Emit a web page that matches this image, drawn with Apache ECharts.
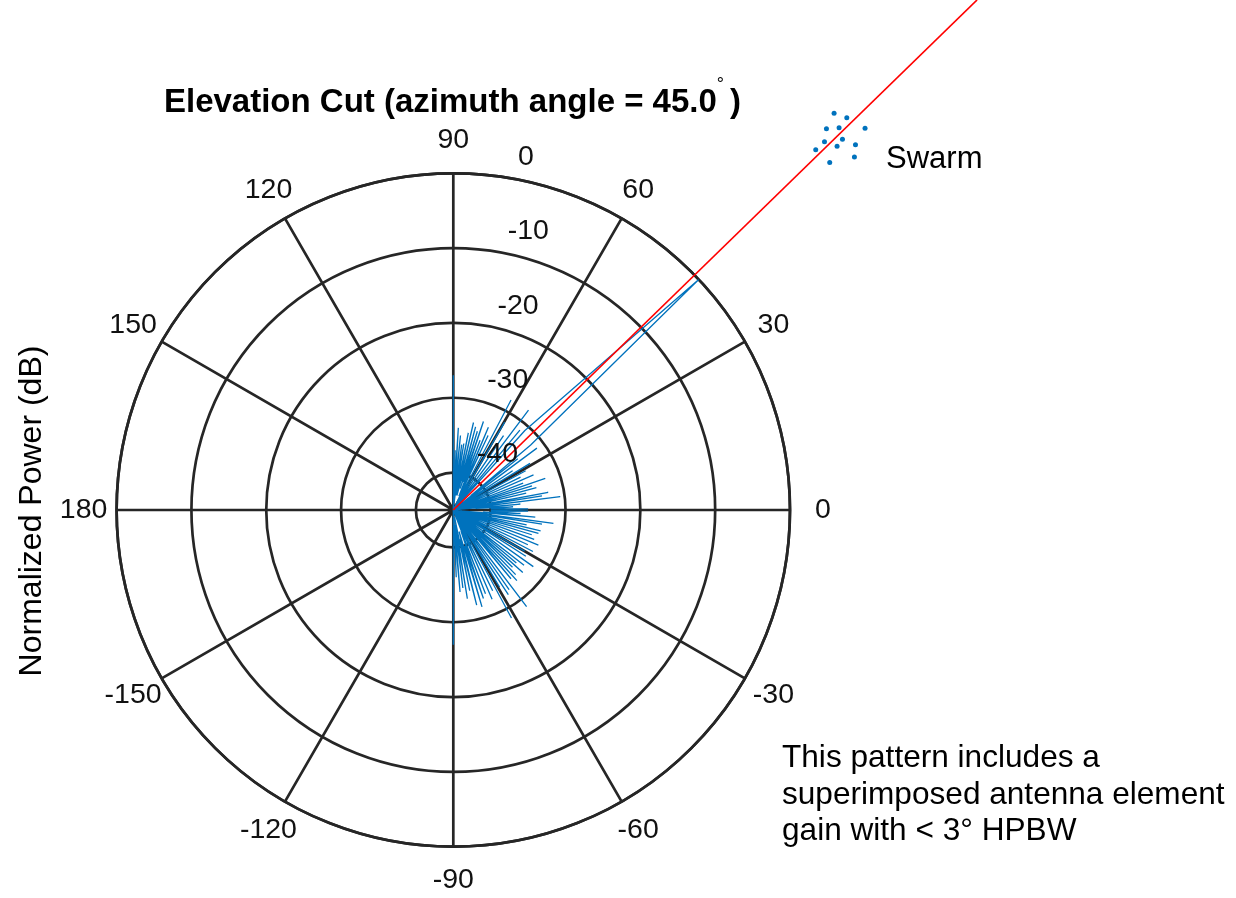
<!DOCTYPE html>
<html>
<head>
<meta charset="utf-8">
<title>Elevation Cut</title>
<script src="https://cdn.jsdelivr.net/npm/echarts@6/dist/echarts.min.js"></script>
<style>
html, body { margin: 0; padding: 0; background: #fff; }
#main { width: 1236px; height: 898px; }
</style>
</head>
<body>
<div id="main"></div>
<script>
// pattern vertices: elevation (deg) and normalized power (dB)
// anything under -45 dB sits on the centre, so it is entered as -45
const elevationDeg = [
  -90, -89, -87.5, -86.5, -85.3, -84, -83, -82, -81, -80,
  -78.5, -77.5, -76.2, -75, -73.5, -72.5, -71.2, -70, -69, -68,
  -66.5, -65.3, -64, -63, -61.7, -60.5, -59, -58, -57, -56,
  -55, -54, -52.8, -51.5, -50, -49, -48, -47, -46, -45,
  -44, -43, -42, -41, -40, -39, -38, -37, -35.3, -34,
  -32.5, -31.5, -30, -29, -27.5, -26.5, -25, -24, -22.4, -21.5,
  -20, -19, -17.5, -16.5, -15.3, -14.3, -13.5, -12.5, -11.5, -10.5,
  -9, -8.3, -7.6, -6.5, -5, -4, -3, -2, -0.8, 0,
  0.8, 2, 3, 4, 5, 6, 7.1, 8, 9, 9.7,
  10.5, 11.5, 13, 14, 15, 16, 17, 18, 19, 20,
  21, 22.3, 23.6, 24.8, 26, 27.3, 28.5, 29.8, 31.3, 32.3,
  33.5, 35, 36.5, 37.5, 38.5, 39.3, 40, 43.2, 48, 49,
  50.2, 51.5, 53, 54.3, 56, 57.3, 59.7, 61, 62.3, 63.3,
  65, 66, 67, 68, 69, 70, 71.2, 72.2, 73, 74,
  75, 76, 77, 78, 79, 80, 81, 81.8, 82.7, 83.6,
  84.5, 85.5, 86.5, 87.3, 88.2, 89.2, 90
];
const powerDb = [
  -27, -45, -36, -42, -34, -43, -34.5, -42, -33, -44,
  -34, -41, -31.9, -42, -31.5, -40, -32.5, -42, -33, -45,
  -32, -43, -33, -45, -28.6, -45, -33, -42, -31.5, -45,
  -32, -44, -28.8, -45, -33, -41, -32.3, -43, -33, -45,
  -34, -42, -32.5, -45, -34, -43, -33, -45, -31.9, -45,
  -33.5, -43, -34, -45, -33, -44, -34, -45, -32.7, -45,
  -33.5, -44, -34, -45, -33.2, -45, -33, -45, -35, -45,
  -33, -45, -31.5, -44, -34, -41, -36, -40, -35, -40,
  -35, -40, -37, -42, -36, -44, -30.6, -45, -33, -44,
  -32.1, -45, -35, -45, -33.5, -45, -34, -44, -32, -45,
  -35, -45, -33.3, -45, -35, -45, -34, -45, -33, -45,
  -35.5, -44, -31.1, -45, -34, -42, -31.5, 0, -30.7, -45,
  -31.1, -45, -28.3, -45, -33, -44, -31.4, -45, -28.4, -45,
  -34, -42, -33, -43, -35, -41, -32.5, -42, -34, -41,
  -33.5, -43, -33, -42, -34.5, -43, -36, -41, -36.2, -44,
  -35, -42, -34, -43, -37, -45, -27
];

// steering direction (red) and swarm element positions, in plot units (dB of radius above -45)
const steerX = [0, 70.0];
const steerY = [0, 68.16];
const swarmX = [50.89, 52.59, 49.87, 51.56, 55.03, 49.61, 52.01, 51.29, 53.75, 48.44, 53.61, 50.31];
const swarmY = [53.01, 52.43, 50.96, 51.09, 51.01, 49.22, 49.54, 48.60, 48.82, 48.15, 47.17, 46.46];

// tick labels
const angleTicks = [-180, -150, -120, -90, -60, -30, 0, 30, 60, 90, 120, 150, 180];
const radiusTicks = [-40, -30, -20, -10, 0];
const rMin = -45, rMax = 0;

const FONT = '"Liberation Sans", Arial, Helvetica, sans-serif';
const INK = '#262626';
const TXT = '#111111';
const BLUE = '#0072BD';

const W = 1236, H = 898;
const cx = 453.3, cy = 510, R = 336.7;
const k = R / (rMax - rMin); // px per plot unit

// angle labels: centre each one a fixed distance beyond the rim
const labelOffset = 33, labelMargin = -40, boxW = 64, boxH = 30;
const angleRich = {};
angleTicks.forEach(function (v) {
  const t = v * Math.PI / 180;
  const ux = Math.cos(t), uy = -Math.sin(t);
  const px = (R + labelMargin) * ux, py = (R + labelMargin) * uy;
  const h = Math.abs(px) / R < 0.3 ? 'center' : (px > 0 ? 'left' : 'right');
  const vv = Math.abs(py) / R < 0.3 ? 'middle' : (py > 0 ? 'top' : 'bottom');
  const dx = (labelOffset - labelMargin) * ux, dy = (labelOffset - labelMargin) * uy;
  const pad = [0, 0, 0, 0];
  if (h === 'left') pad[3] = dx - boxW / 2;
  if (h === 'right') pad[1] = -dx - boxW / 2;
  if (vv === 'bottom') pad[2] = -dy - boxH / 2;
  if (vv === 'top') pad[0] = dy - boxH / 2;
  angleRich['a' + (v + 180)] = {
    width: boxW, height: boxH, align: 'center', verticalAlign: 'middle',
    padding: pad, fontSize: 28.5, fontFamily: FONT, color: TXT
  };
});

const patternData = elevationDeg.map(function (a, i) { return [powerDb[i], a]; });
const steerData = steerX.map(function (x, i) { return [x, steerY[i]]; });
const swarmData = swarmX.map(function (x, i) { return [x, swarmY[i]]; });

const chart = echarts.init(document.getElementById('main'));
chart.setOption({
  animation: false,
  backgroundColor: '#ffffff',
  polar: [
    { center: [cx, cy], radius: R },
    // only carries the dB labels, rotated like the original r-axis
    { center: [cx + 18.4, cy - 19], radius: R }
  ],
  angleAxis: [
    {
      polarIndex: 0, type: 'value', min: -180, max: 180, interval: 30,
      startAngle: 180, clockwise: false,
      axisLine: { show: true, lineStyle: { color: INK, width: 2.7 } },
      axisTick: { show: false },
      splitLine: { show: true, lineStyle: { color: INK, width: 2.7 } },
      axisLabel: {
        margin: labelMargin,
        rich: angleRich,
        formatter: function (v) {
          if (v === 180) return '';
          return '{a' + (v + 180) + '|' + (v === -180 ? 180 : v) + '}';
        }
      }
    },
    { polarIndex: 1, type: 'value', min: 0, max: 360, startAngle: 82.1, show: false }
  ],
  radiusAxis: [
    {
      polarIndex: 0, type: 'value', min: rMin, max: rMax,
      axisLine: { show: false }, axisTick: { show: false }, axisLabel: { show: false },
      splitLine: { show: true, lineStyle: { color: INK, width: 2.7 } }
    },
    {
      polarIndex: 1, type: 'value', min: rMin, max: rMax, z: 10,
      axisLine: { show: false }, axisTick: { show: false }, splitLine: { show: false },
      axisLabel: {
        show: true, margin: 0, align: 'left', verticalAlign: 'middle',
        showMinLabel: false, showMaxLabel: true,
        fontSize: 28.5, fontFamily: FONT, color: TXT,
        formatter: function (v) { return radiusTicks.indexOf(v) >= 0 ? String(v) : ''; }
      }
    }
  ],
  // full-canvas cartesian frame sharing the polar centre and scale, for the
  // steering line that runs off the plot and for the swarm markers
  grid: { left: 0, top: 0, width: W, height: H },
  xAxis: { type: 'value', min: -cx / k, max: (W - cx) / k, show: false },
  yAxis: { type: 'value', min: -(H - cy) / k, max: cy / k, show: false },
  series: [
    {
      type: 'line', coordinateSystem: 'polar', polarIndex: 0,
      data: patternData, symbol: 'none', showSymbol: false, z: 3,
      lineStyle: { color: BLUE, width: 1.3 }
    },
    {
      type: 'line', xAxisIndex: 0, yAxisIndex: 0, data: steerData,
      symbol: 'none', clip: false, z: 5,
      lineStyle: { color: '#FF0000', width: 1.7 }
    },
    {
      type: 'scatter', xAxisIndex: 0, yAxisIndex: 0, data: swarmData,
      symbolSize: 5, clip: false, z: 5,
      itemStyle: { color: BLUE, opacity: 1 }
    }
  ],
  graphic: [
    {
      type: 'text', x: 452.5, y: 103, z: 20,
      style: {
        text: '{t|Elevation Cut (azimuth angle = 45.0}{d|°}{t|)}',
        align: 'center', verticalAlign: 'middle',
        rich: {
          t: { fontSize: 33, fontWeight: 'bold', fontFamily: FONT, color: '#000', lineHeight: 54 },
          d: { fontSize: 18, fontFamily: FONT, color: '#000', verticalAlign: 'top', padding: [0, 6, 0, 0] }
        }
      }
    },
    {
      type: 'text', x: 32.5, y: 511, rotation: Math.PI / 2, z: 20,
      style: {
        text: 'Normalized Power (dB)', font: '32px ' + FONT, fill: '#000',
        align: 'center', verticalAlign: 'middle'
      }
    },
    {
      type: 'text', x: 886, y: 159, z: 20,
      style: {
        text: 'Swarm', font: '31px ' + FONT, fill: '#000',
        align: 'left', verticalAlign: 'middle'
      }
    },
    {
      type: 'text', x: 782, y: 740, z: 20,
      style: {
        text: 'This pattern includes a\nsuperimposed antenna element\ngain with < 3° HPBW',
        font: '31.6px ' + FONT, fill: '#000', lineHeight: 36.7,
        align: 'left', verticalAlign: 'top'
      }
    }
  ]
});
</script>
</body>
</html>
